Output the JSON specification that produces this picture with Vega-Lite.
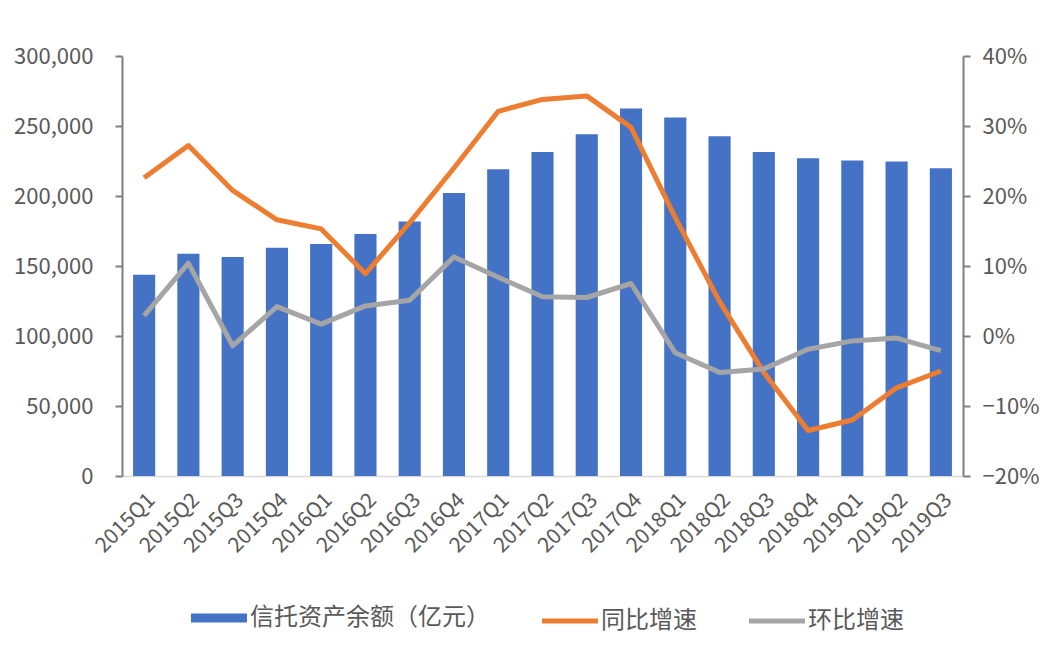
{
  "$schema": "https://vega.github.io/schema/vega-lite/v6.json",
  "width": 841,
  "height": 420,
  "autosize": {"type": "none"},
  "padding": {"left": 122, "top": 56, "right": 95, "bottom": 178},
  "background": "white",
  "config": {
    "view": {"stroke": null},
    "font": "Noto Sans CJK SC",
    "axis": {"grid": false, "labelColor": "#595959", "domainColor": "#7f7f7f", "tickColor": "#7f7f7f", "labelFont": "Noto Sans CJK SC"}
  },
  "data": {
    "values": [
      {"q": "2015Q1", "assets": 143800, "yoy": 0.226, "qoq": 0.029},
      {"q": "2015Q2", "assets": 158700, "yoy": 0.272, "qoq": 0.104},
      {"q": "2015Q3", "assets": 156400, "yoy": 0.208, "qoq": -0.014},
      {"q": "2015Q4", "assets": 163000, "yoy": 0.166, "qoq": 0.042},
      {"q": "2016Q1", "assets": 165800, "yoy": 0.153, "qoq": 0.017},
      {"q": "2016Q2", "assets": 172900, "yoy": 0.089, "qoq": 0.043},
      {"q": "2016Q3", "assets": 181700, "yoy": 0.162, "qoq": 0.051},
      {"q": "2016Q4", "assets": 202200, "yoy": 0.240, "qoq": 0.113},
      {"q": "2017Q1", "assets": 219100, "yoy": 0.321, "qoq": 0.084},
      {"q": "2017Q2", "assets": 231400, "yoy": 0.338, "qoq": 0.056},
      {"q": "2017Q3", "assets": 244100, "yoy": 0.343, "qoq": 0.055},
      {"q": "2017Q4", "assets": 262500, "yoy": 0.298, "qoq": 0.075},
      {"q": "2018Q1", "assets": 256100, "yoy": 0.169, "qoq": -0.024},
      {"q": "2018Q2", "assets": 242700, "yoy": 0.049, "qoq": -0.052},
      {"q": "2018Q3", "assets": 231400, "yoy": -0.052, "qoq": -0.047},
      {"q": "2018Q4", "assets": 227000, "yoy": -0.135, "qoq": -0.019},
      {"q": "2019Q1", "assets": 225300, "yoy": -0.120, "qoq": -0.007},
      {"q": "2019Q2", "assets": 224700, "yoy": -0.074, "qoq": -0.003},
      {"q": "2019Q3", "assets": 219900, "yoy": -0.050, "qoq": -0.021}
    ]
  },
  "encoding": {
    "x": {
      "field": "q", "type": "ordinal", "sort": null,
      "scale": {"paddingInner": 0.5, "paddingOuter": 0.25},
      "axis": {"title": null, "labelAngle": -45, "labelFontSize": 21, "ticks": false, "domainColor": "#d9d9d9", "domainWidth": 1.5, "labelPadding": 13}
    }
  },
  "layer": [
    {
      "mark": {"type": "bar"},
      "encoding": {
        "y": {
          "field": "assets", "type": "quantitative",
          "scale": {"domain": [0, 300000]},
          "axis": {"orient": "left", "title": null, "values": [0, 50000, 100000, 150000, 200000, 250000, 300000], "format": ",.0f", "labelFontSize": 22, "domainWidth": 2, "tickWidth": 2, "tickSize": 7, "labelPadding": 22}
        },
        "color": {
          "datum": "assets", "type": "nominal",
          "scale": {"domain": ["assets", "yoy", "qoq"], "range": ["#4472C4", "#ED7D31", "#A5A5A5"]},
          "legend": {
            "title": null,
            "orient": "none",
            "legendX": 85,
            "legendY": 550,
            "direction": "horizontal",
            "symbolType": "stroke",
            "symbolSize": 3136,
            "symbolStrokeWidth": 5,
            "labelFontSize": 24,
            "labelColor": "#595959",
            "labelOffset": 19,
            "labelLimit": 0,
            "columnPadding": 42,
            "labelExpr": "datum.value === 'assets' ? '信托资产余额（亿元）' : datum.value === 'yoy' ? '同比增速' : '环比增速'",
            "encode": {
              "symbols": {
                "update": {
                  "strokeWidth": {"signal": "datum.value === 'assets' ? 9 : 5"},
                  "stroke": {"signal": "scale('color', datum.value)"},
                  "strokeCap": {"value": "butt"}
                }
              }
            }
          }
        }
      }
    },
    {
      "transform": [{"fold": ["yoy", "qoq"], "as": ["series", "value"]}],
      "mark": {"type": "line", "strokeWidth": 5, "interpolate": "linear", "strokeJoin": "round"},
      "encoding": {
        "y": {
          "field": "value", "type": "quantitative",
          "scale": {"domain": [-0.2, 0.4]},
          "axis": {"orient": "right", "title": null, "values": [-0.2, -0.1, 0, 0.1, 0.2, 0.3, 0.4], "format": ".0%", "labelFontSize": 22, "domainWidth": 2, "tickWidth": 2, "tickSize": 7, "labelPadding": 12}
        },
        "color": {"field": "series", "type": "nominal", "legend": {"title": null}}
      }
    }
  ],
  "resolve": {"scale": {"y": "independent"}}
}
